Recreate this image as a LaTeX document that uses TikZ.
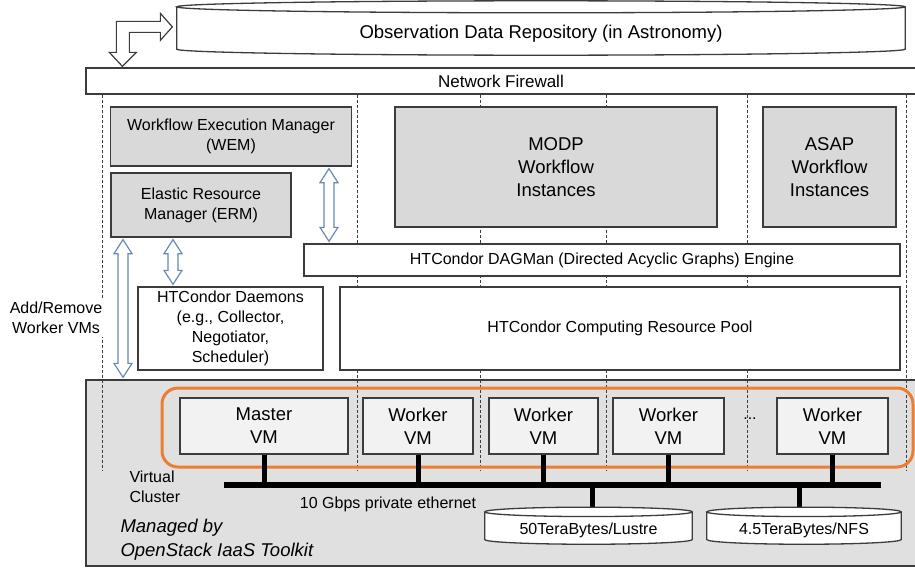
\documentclass[tikz,border=0pt]{standalone}
\usepackage{fontspec}
\setmainfont{Liberation Sans}
\usetikzlibrary{calc}

\definecolor{linegray}{RGB}{60,60,60}
\definecolor{boxgray}{RGB}{217,217,217}
\definecolor{panelgray}{RGB}{224,224,224}
\definecolor{vmgray}{RGB}{242,242,242}
\definecolor{clusterorange}{RGB}{237,125,49}
\definecolor{arrowblue}{RGB}{104,138,178}

\newcommand\normtext{\fontsize{16}{20}\selectfont}
\newcommand\largetext{\fontsize{18.5}{23}\selectfont}
\newcommand\fwtext{\fontsize{17}{20}\selectfont}

\newcommand\hollowarrow[2]{%
	\path[hollow] let \p1=(#1), \p2=(#2) in
		(\x1,\y1-2pt) -- (\x1+9pt,\y1-16pt) -- (\x1+5pt,\y1-16pt) -- (\x1+5pt,\y2+16pt) -- (\x1+9pt,\y2+16pt)
		-- (\x1,\y2+2pt) -- (\x1-9pt,\y2+16pt) -- (\x1-5pt,\y2+16pt) -- (\x1-5pt,\y1-16pt) -- (\x1-9pt,\y1-16pt) -- cycle;}
\newcommand\drumoutline[2]{%
	\path[drum] let \p1=(#1.north west), \p2=(#1.south east), \n1={(\x2-\x1)/2} in
		(\x1,\y1+#2) -- (\x1,\y2+#2) arc[start angle=180, end angle=360, x radius=\n1, y radius=#2]
		-- (\x2,\y1+#2) arc[start angle=0, end angle=180, x radius=\n1, y radius=#2]
		arc[start angle=180, end angle=360, x radius=\n1, y radius=#2];}

\begin{document}
\begin{tikzpicture}[x=1pt, y=-1pt, font=\normtext,
	box/.style={draw=linegray, line width=1.3pt, inner sep=0pt, align=center},
	graybox/.style={box, fill=boxgray},
	whitebox/.style={box, fill=white},
	vmbox/.style={box, fill=vmgray, font=\largetext, minimum height=56},
	drumbody/.style={inner sep=0pt},
	divider/.style={draw=linegray, dash pattern=on 3pt off 2pt, line width=0.8pt},
	hollow/.style={draw=arrowblue, fill=white, line width=1.2pt, line join=miter},
	drum/.style={draw=linegray, fill=white, line width=1.3pt},
	bus/.style={draw=black, line width=6pt},
	stub/.style={draw=black, line width=5pt}]
	\clip (0,0) rectangle (915,570);

	\node[box, fill=panelgray, minimum width=830, minimum height=186] (os) at (501,473) {};
	\node[whitebox, minimum width=830, minimum height=26, font=\fwtext] (fw) at (501,81) {Network Firewall};

	\draw[divider] (102,0 |- fw.south) -- (102,470);
	\draw[divider] (357,0 |- fw.south) -- (357,470);
	\draw[divider] (480,0 |- fw.south) -- (480,470);
	\draw[divider] (606,0 |- fw.south) -- (606,470);
	\draw[divider] (747,0 |- fw.south) -- (747,470);
	\draw[divider] (906,0 |- fw.south) -- (906,470);

	\node[drumbody, minimum width=728, minimum height=42] (repo) at (541,34) {};
	\drumoutline{repo}{6pt}
	\node[font=\largetext] (repolabel) at (repo) {Observation Data Repository (in Astronomy)};

	\draw[draw=linegray, fill=white, line width=1.2pt, line join=miter] ($(fw.north west)+(37,-1)$)
		-- ++(14,-14) -- ++(-7,0) -- ++(0,-20) -- ++(31,0) -- ++(0,8) -- ++(12,-13.5)
		-- ++(-12,-13.5) -- ++(0,8) -- ++(-44,0) -- ++(0,31) -- ++(-7,0) -- cycle;

	\node[graybox, minimum width=241, minimum height=59] (wem) at (231,136.5) {Workflow Execution Manager\\(WEM)};
	\node[graybox, minimum width=180, minimum height=64] (erm) at (201,205) {Elastic Resource\\Manager (ERM)};
	\node[graybox, minimum width=322, minimum height=120, font=\largetext] (modp) at (556,167) {MODP\\Workflow\\Instances};
	\node[graybox, minimum width=133, minimum height=120, font=\largetext] (asap) at (829.5,167) {ASAP\\Workflow\\Instances};
	\node[whitebox, minimum width=596, minimum height=32] (dagman) at (602,260) {HTCondor DAGMan (Directed Acyclic Graphs) Engine};
	\node[whitebox, minimum width=185, minimum height=83] (daemons) at (230.5,328.5) {HTCondor Daemons\\(e.g., Collector,\\Negotiator,\\Scheduler)};
	\node[whitebox, minimum width=560, minimum height=83] (pool) at (620,328.5) {HTCondor Computing Resource Pool};

	\hollowarrow{329,0 |- wem.south}{329,0 |- dagman.north}
	\hollowarrow{173,0 |- erm.south}{173,0 |- daemons.north}
	\hollowarrow{123,0 |- erm.south}{123,0 |- os.north}
	\node[fill=white, inner sep=3pt, align=center] (addrm) at (56,318) {Add/Remove\\Worker VMs};

	\node[vmbox, minimum width=168] (master) at (264,426) {Master\\VM};
	\node[vmbox, minimum width=110] (worker1) at (418,426) {Worker\\VM};
	\node[vmbox, minimum width=109] (worker2) at (543.5,426) {Worker\\VM};
	\node[vmbox, minimum width=111] (worker3) at (668.5,426) {Worker\\VM};
	\node[vmbox, minimum width=111] (worker4) at (832.5,426) {Worker\\VM};
	\node (dots) at (750,419) {...};
	\node[draw=clusterorange, line width=3pt, rounded corners=16pt, minimum width=751, minimum height=79] (cluster) at (537.5,427.5) {};

	\coordinate (busL) at (224,485);
	\coordinate (busR) at (881,485);
	\draw[bus] (busL) -- (busR);
	\draw[stub] (master.south) -- (master.south |- busL);
	\draw[stub] (worker1.south) -- (worker1.south |- busL);
	\draw[stub] (worker2.south) -- (worker2.south |- busL);
	\draw[stub] (worker3.south) -- (worker3.south |- busL);
	\draw[stub] (worker4.south) -- (worker4.south |- busL);

	\node[drumbody, minimum width=207, minimum height=27.3] (lustre) at (588.5,530.4) {};
	\node[drumbody, minimum width=194, minimum height=27.3] (nfs) at (804,530.4) {};
	\draw[stub] ([xshift=3.5]lustre.north |- busL) -- ([xshift=3.5]lustre.north);
	\draw[stub] ([xshift=-5]nfs.north |- busL) -- ([xshift=-5]nfs.north);
	\drumoutline{lustre}{4.7pt}
	\drumoutline{nfs}{4.7pt}
	\node (lustrelabel) at (lustre) {50TeraBytes/Lustre};
	\node (nfslabel) at (nfs) {4.5TeraBytes/NFS};

	\node[anchor=west, align=left] (vclabel) at (126,487) {Virtual\\Cluster};
	\node (ethlabel) at (388,504) {10 Gbps private ethernet};
	\node[anchor=west, align=left, font=\fontsize{18.5}{24}\selectfont\itshape] (managed) at (117,540) {Managed by\\OpenStack IaaS Toolkit};
\end{tikzpicture}
\end{document}
